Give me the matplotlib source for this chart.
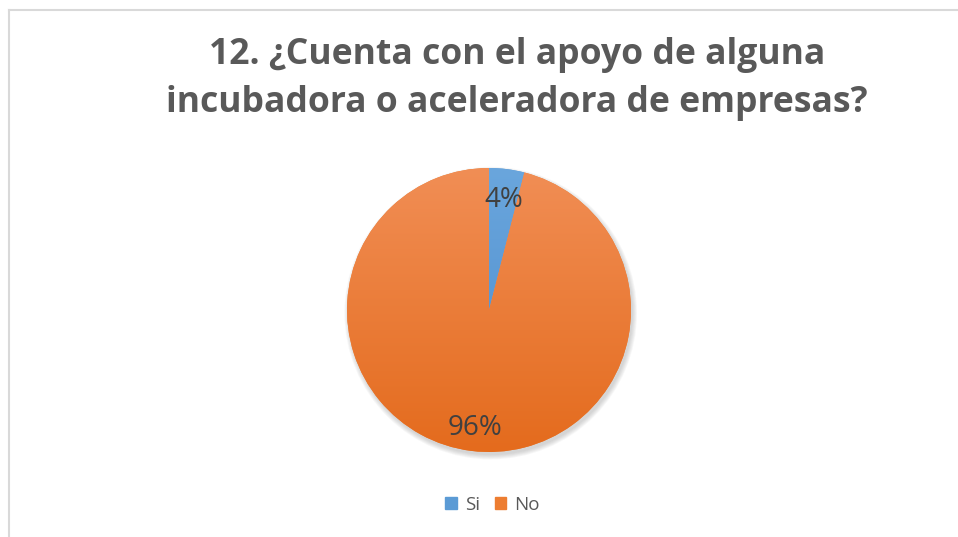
import numpy as np
import matplotlib
matplotlib.use("Agg")
import matplotlib.pyplot as plt
from matplotlib.colors import LinearSegmentedColormap
from matplotlib.patches import Circle

TITLE = "12. ¿Cuenta con el apoyo de alguna\nincubadora o aceleradora de empresas?"
labels = ["Si", "No"]
values = [4, 96]
colors = ["#5B9BD5", "#ED7D31"]
# lighter at top, darker at bottom (excel-like gradient)
grad_top = ["#6AA6DD", "#F18E55"]
grad_bot = ["#4A8ACB", "#E46B1D"]

W, H = 958, 537
fig = plt.figure(figsize=(W / 100, H / 100), dpi=100)
fig.patch.set_facecolor("white")

# chart border (only top/left visible in the crop)
fig.add_artist(plt.Line2D([8.5 / W, 8.5 / W], [0, 1 - 9.5 / H], color="#D9D9D9", lw=1.5))
fig.add_artist(plt.Line2D([8.5 / W, 1], [1 - 9.5 / H, 1 - 9.5 / H], color="#D9D9D9", lw=1.5))

fig.text(517 / W, 1 - 79 / H, TITLE, ha="center", va="center", fontsize=25.6,
         fontweight="bold", color="#595959", family="Open Sans", linespacing=1.43)

cx, cy, r = 489, 310, 142
ax = fig.add_axes([(cx - r) / W, (H - cy - r) / H, 2 * r / W, 2 * r / H])
ax.set_aspect("equal")
ax.axis("off")

# soft shadow
for k in range(6):
    ax.add_patch(Circle((0.012, -0.022), 1.0 + 0.006 * k, color="#7F7F7F",
                        alpha=0.06, zorder=0, lw=0, clip_on=False))

wedges, texts, autotexts = ax.pie(values, colors=colors, startangle=90, counterclock=False,
                                  autopct="%1.0f%%", pctdistance=0.81,
                                  wedgeprops=dict(linewidth=0),
                                  textprops=dict(fontsize=20, color="#404040", family="Open Sans"))
grad = np.linspace(1, 0, 256).reshape(-1, 1)
for w, c0, c1 in zip(wedges, grad_top, grad_bot):
    cm = LinearSegmentedColormap.from_list("g", [c1, c0])
    im = ax.imshow(grad[::-1], cmap=cm, extent=[-1, 1, -1, 1], origin="lower",
                   aspect="auto", zorder=w.get_zorder() + 0.1)
    im.set_clip_path(w)
for t in autotexts:
    x, y = t.get_position()
    t.set_position((x, y - 0.03))
    t.set_zorder(5)
ax.set_xlim(-1, 1)
ax.set_ylim(-1, 1)

handles = [plt.Rectangle((0, 0), 1, 1, color=c) for c in colors]
fig.legend(handles, labels, loc="center", bbox_to_anchor=(492.5 / W, 1 - 505 / H), ncol=2,
           frameon=False, handlelength=0.6, handleheight=0.6,
           handletextpad=0.43, columnspacing=0.8, labelcolor="#595959",
           prop=dict(family="Open Sans", size=13.5))

fig.savefig("out.png", dpi=100, facecolor="white")
